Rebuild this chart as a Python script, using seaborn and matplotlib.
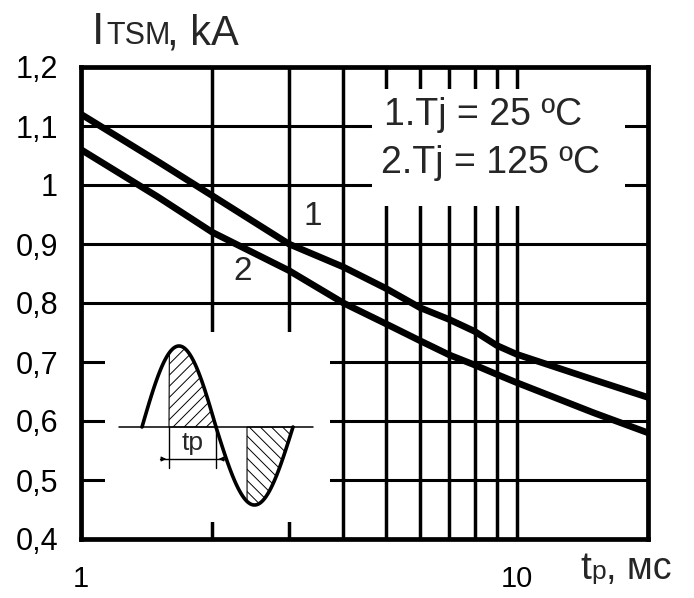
import numpy as np
import pandas as pd
import matplotlib
matplotlib.use("Agg")
import matplotlib.pyplot as plt
from matplotlib.patches import Rectangle, Polygon
import seaborn as sns

# ---- data ----
tp_ms = [1, 1.5, 2, 3, 4, 5, 6, 7, 8, 9, 10, 15, 20]
itsm_25 = [1.12, 1.04, 0.982, 0.90, 0.861, 0.825, 0.792, 0.772, 0.752, 0.728, 0.713, 0.67, 0.64]
itsm_125 = [1.06, 0.98, 0.92, 0.855, 0.80, 0.765, 0.736, 0.712, 0.695, 0.679, 0.665, 0.614, 0.58]
y_ticks = [0.4, 0.5, 0.6, 0.7, 0.8, 0.9, 1.0, 1.1, 1.2]
y_tick_labels = ["0,4", "0,5", "0,6", "0,7", "0,8", "0,9", "1", "1,1", "1,2"]
x_ticks = [1, 10]
x_tick_labels = ["1", "10"]
x_grid = [1, 2, 3, 4, 5, 6, 7, 8, 9, 10, 20]
legend_lines = ["1.Tj = 25 ºC", "2.Tj = 125 ºC"]

sns.set_style("white")
plt.rcParams["font.family"] = ["Liberation Sans", "DejaVu Sans"]
plt.rcParams["hatch.linewidth"] = 0.7

W, H = 694, 598
fig = plt.figure(figsize=(W / 100, H / 100), dpi=100)
fig.patch.set_facecolor("white")

# axes box in pixels: left 81, right 648, top 67, bottom 539
L, R, T, B = 81, 648, 67, 539
ax = fig.add_axes([L / W, 1 - B / H, (R - L) / W, (B - T) / H])
ax.set_facecolor("white")

df = pd.DataFrame({
    "tp": tp_ms + tp_ms,
    "I": itsm_25 + itsm_125,
    "curve": ["1"] * len(tp_ms) + ["2"] * len(tp_ms),
})
sns.lineplot(data=df, x="tp", y="I", hue="curve", palette=["black", "black"],
             linewidth=4.8, legend=False, ax=ax, zorder=4)
for ln in ax.get_lines():
    ln.set_solid_joinstyle("round")
    ln.set_solid_capstyle("butt")

ax.set_xscale("log")
ax.set_xlim(1, 20)
ax.set_ylim(0.4, 1.2)
ax.set_xlabel("")
ax.set_ylabel("")

# grid
ax.set_axisbelow(True)
for xv in x_grid:
    ax.axvline(xv, color="black", lw=2.5, zorder=1)
for yv in y_ticks:
    ax.axhline(yv, color="black", lw=2.2, zorder=1)

ax.set_yticks(y_ticks)
ax.set_yticklabels(y_tick_labels)
ax.set_xticks(x_ticks)
ax.set_xticklabels(x_tick_labels)
ax.xaxis.set_minor_locator(matplotlib.ticker.NullLocator())
ax.tick_params(axis="both", which="major", direction="out", length=7.5, width=2.4,
               color="black", labelsize=22, labelcolor="black")
ax.tick_params(axis="y", pad=9)
ax.tick_params(axis="x", pad=11, labelsize=21)

for s in ax.spines.values():
    s.set_visible(True)
    s.set_color("black")
    s.set_linewidth(3.4)
    s.set_zorder(5)

# legend white box
lx0, lx1, ly0, ly1 = 372, 625, 89, 206
ax.add_patch(Rectangle(((lx0 - L) / (R - L), (B - ly1) / (B - T)),
                       (lx1 - lx0) / (R - L), (ly1 - ly0) / (B - T),
                       transform=ax.transAxes, facecolor="white", edgecolor="none", zorder=2))
ax.text((384 - L) / (R - L), (B - 115) / (B - T), legend_lines[0], transform=ax.transAxes,
        fontsize=27, ha="left", va="center", zorder=3)
ax.text((381 - L) / (R - L), (B - 163) / (B - T), legend_lines[1], transform=ax.transAxes,
        fontsize=27, ha="left", va="center", zorder=3)

# curve labels
ax.text(3.40, 0.946, "1", fontsize=24, ha="center", va="center", zorder=3)
ax.text(2.35, 0.853, "2", fontsize=24, ha="center", va="center", zorder=3)

# title and axis label (pixel positions)
def fx(px):
    return px / W

def fy(py):
    return 1 - py / H

fig.text(fx(92), fy(44), "I", fontsize=32, ha="left", va="baseline")
fig.text(fx(106), fy(44), "TSM", fontsize=22, ha="left", va="baseline")
fig.text(fx(167), fy(44), ", kA", fontsize=30, ha="left", va="baseline")

fig.text(fx(580), fy(579), "t", fontsize=28, ha="left", va="baseline")
fig.text(fx(591), fy(579), "p", fontsize=19, ha="left", va="baseline")
fig.text(fx(606), fy(579), ", мс", fontsize=27, ha="left", va="baseline")

# inset schematic (sine pulse) in its own axes, pixel coordinates
ix0, ix1, iy0, iy1 = 105, 330, 332, 522
iax = fig.add_axes([ix0 / W, 1 - iy1 / H, (ix1 - ix0) / W, (iy1 - iy0) / H])
iax.set_facecolor("white")
iax.set_xlim(ix0, ix1)
iax.set_ylim(iy1, iy0)
iax.set_axis_off()
iax.add_patch(Rectangle((ix0, iy0), ix1 - ix0, iy1 - iy0, facecolor="white",
                        edgecolor="none", zorder=0))

base = 427
x_start, x_mid, x_end = 142, 216, 293
amp_up, amp_dn = 81, 78
xs1 = np.linspace(x_start, x_mid, 120)
ys1 = base - amp_up * np.sin(np.pi * (xs1 - x_start) / (x_mid - x_start))
xs2 = np.linspace(x_mid, x_end, 120)
ys2 = base + amp_dn * np.sin(np.pi * (xs2 - x_mid) / (x_end - x_mid))

# hatched areas
h1 = xs1 >= 169
poly1 = np.column_stack([np.r_[xs1[h1], x_mid, 169], np.r_[ys1[h1], base, base]])
iax.add_patch(Polygon(poly1, closed=True, facecolor="none", edgecolor="black",
                      hatch="///", lw=0.8, zorder=1))
h2 = xs2 >= 247
poly2 = np.column_stack([np.r_[247, xs2[h2], x_end], np.r_[base, ys2[h2], base]])
iax.add_patch(Polygon(poly2, closed=True, facecolor="none", edgecolor="black",
                      hatch="\\\\\\", lw=0.8, zorder=1))

iax.plot(xs1, ys1, color="black", lw=2.6, zorder=3)
iax.plot(xs2, ys2, color="black", lw=2.6, zorder=3)
iax.plot([119, 313], [base, base], color="black", lw=1.1, zorder=2)

# tp dimension
iax.plot([169, 169], [base, 468], color="black", lw=1.0)
iax.plot([216, 216], [base, 468], color="black", lw=1.0)
iax.plot([160, 224], [459, 459], color="black", lw=1.0)
iax.annotate("", xy=(169, 459), xytext=(160, 459),
             arrowprops=dict(arrowstyle="-|>", color="black", lw=0.8, mutation_scale=7))
iax.annotate("", xy=(216, 459), xytext=(224, 459),
             arrowprops=dict(arrowstyle="-|>", color="black", lw=0.8, mutation_scale=7))
iax.text(192.5, 443, "tp", fontsize=19, ha="center", va="center")

fig.savefig("out.png", dpi=100)
